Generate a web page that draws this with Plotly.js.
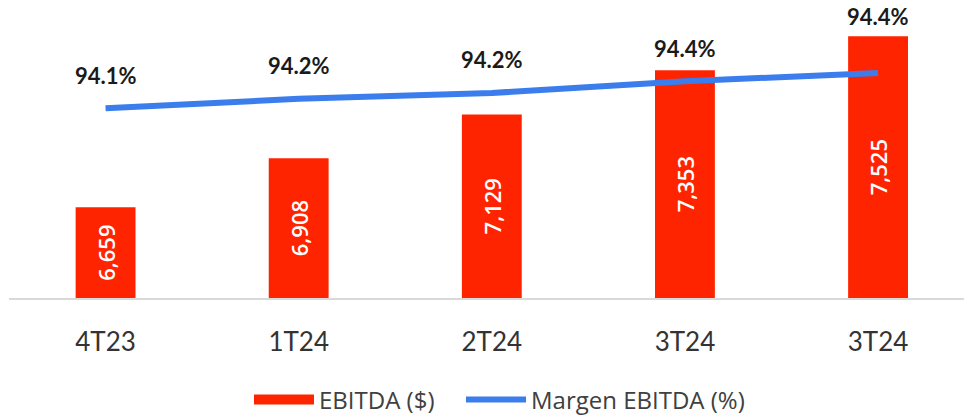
<!DOCTYPE html>
<html>
<head>
<meta charset="utf-8">
<script src="https://cdn.plot.ly/plotly-3.0.1.min.js"></script>
<style>
  html, body { margin: 0; padding: 0; background: #fff; }
  #chart { width: 964px; height: 416px; }
</style>
</head>
<body>
<div id="chart"></div>
<script>
// ---- Data ----
const categories = ['4T23', '1T24', '2T24', '3T24', '3T24'];
const ebitdaValues = [6659, 6908, 7129, 7353, 7525];
const ebitdaLabels = ['6,659', '6,908', '7,129', '7,353', '7,525'];
const marginValues = [94.10, 94.18, 94.23, 94.33, 94.40];
const marginLabels = ['94.1%', '94.2%', '94.2%', '94.4%', '94.4%'];

// ---- Layout helpers ----
const xIdx = categories.map((_, i) => i);
const yRange = [6200, 7709];
const y2Range = [92.488, 95.02];
const BASE = yRange[0];
const H = 298; // plot area height in px (margin top 0)
const toPx = (v, r) => H * (1 - (v - r[0]) / (r[1] - r[0]));

const FONT = 'Lato, "Open Sans", sans-serif';
const FONT2 = '"Open Sans", Lato, sans-serif';

const annotations = marginValues.map((v, i) => {
  const linePx = toPx(v, y2Range);
  const barPx = toPx(ebitdaValues[i], yRange);
  const labelPx = Math.min(linePx - 33, barPx - 20);
  return {
    x: xIdx[i], xref: 'x',
    y: 1 - labelPx / H, yref: 'paper',
    text: marginLabels[i],
    showarrow: false,
    xanchor: 'center', yanchor: 'middle',
    font: { family: FONT, size: 22, color: '#1a1a1a', weight: 'bold' }
  };
});

const traces = [
  {
    type: 'bar',
    x: xIdx,
    base: BASE,
    y: ebitdaValues.map(v => v - BASE),
    text: ebitdaLabels,
    textposition: 'inside',
    insidetextanchor: 'middle',
    textangle: -90,
    constraintext: 'none',
    textfont: { family: FONT2, size: 22, color: '#ffffff', weight: 600 },
    marker: { color: '#FF2400' },
    width: 0.31,
    showlegend: false,
    hoverinfo: 'skip'
  },
  {
    type: 'scatter',
    mode: 'lines',
    x: xIdx,
    y: marginValues,
    yaxis: 'y2',
    line: { color: '#3B7DED', width: 6 },
    showlegend: false,
    hoverinfo: 'skip'
  },
  // legend entries
  {
    type: 'scatter', mode: 'lines', x: [null], y: [null],
    name: 'EBITDA ($)',
    legend: 'legend',
    line: { color: '#FF2400', width: 12 },
    hoverinfo: 'skip'
  },
  {
    type: 'scatter', mode: 'lines', x: [null], y: [null],
    name: 'Margen EBITDA (%)',
    legend: 'legend2',
    line: { color: '#3B7DED', width: 6 },
    hoverinfo: 'skip'
  }
];

const legendStyle = {
  orientation: 'h',
  xanchor: 'left',
  yref: 'container',
  y: 0.0925, yanchor: 'top',
  font: { family: FONT2, size: 24, color: '#404040' },
  itemwidth: 60,
  bgcolor: 'rgba(0,0,0,0)'
};

const layout = {
  width: 964,
  height: 416,
  margin: { l: 9, r: 0, t: 0, b: 118 },
  paper_bgcolor: '#ffffff',
  plot_bgcolor: '#ffffff',
  showlegend: true,
  xaxis: {
    range: [-0.5, 4.445],
    tickmode: 'array',
    tickvals: xIdx,
    ticktext: categories,
    showgrid: false,
    zeroline: false,
    showline: true,
    linecolor: '#d9d9d9',
    linewidth: 2,
    ticks: 'outside',
    ticklen: 20,
    tickcolor: 'rgba(0,0,0,0)',
    tickfont: { family: FONT, size: 26, color: '#333333' },
    fixedrange: true
  },
  yaxis: {
    range: yRange,
    visible: false,
    showgrid: false,
    zeroline: false,
    fixedrange: true
  },
  yaxis2: {
    range: y2Range,
    overlaying: 'y',
    side: 'right',
    visible: false,
    showgrid: false,
    zeroline: false,
    fixedrange: true
  },
  legend: Object.assign({}, legendStyle, { x: 0.2513 }),
  legend2: Object.assign({}, legendStyle, { x: 0.4733 }),
  annotations: annotations
};

Plotly.newPlot('chart', traces, layout, { displayModeBar: false, staticPlot: true });
</script>
</body>
</html>
